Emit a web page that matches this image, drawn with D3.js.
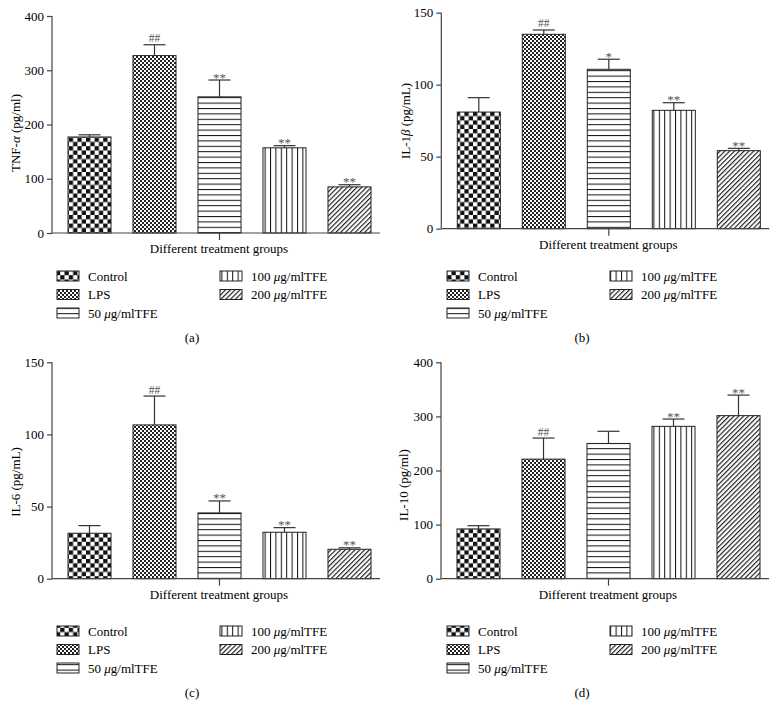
<!DOCTYPE html>
<html>
<head>
<meta charset="utf-8">
<script src="https://cdn.jsdelivr.net/npm/d3@7"></script>
<style>
  body { margin: 0; background: #fff; }
  svg { display: block; font-family: "Liberation Serif", "DejaVu Serif", serif; }
</style>
</head>
<body>
<div id="chart"></div>
<script>
// groups and values (mean, sd)
var groups = ["Control", "LPS", "50", "100", "200"];
var legendLabels = ["Control", "LPS", "50 μg/mlTFE", "100 μg/mlTFE", "200 μg/mlTFE"];

var tnfMean = [177, 327, 251, 157, 85];
var tnfSd = [4, 20, 31, 4, 4];
var tnfSig = ["", "##", "**", "**", "**"];

var il1bMean = [81, 135, 110.7, 82.2, 54.2];
var il1bSd = [10, 3, 7, 5.3, 1.6];
var il1bSig = ["", "##", "*", "**", "**"];

var il6Mean = [31.5, 106.6, 45.6, 32.2, 20.4];
var il6Sd = [5.3, 20, 8.3, 3.2, 1];
var il6Sig = ["", "##", "**", "**", "**"];

var il10Mean = [92, 221, 250, 281.6, 301.4];
var il10Sd = [6, 39, 22.5, 13.5, 38];
var il10Sig = ["", "##", "", "**", "**"];

var yTicks400 = [0, 100, 200, 300, 400];
var yTicks150 = [0, 50, 100, 150];

var width = 779, height = 715;

var svg = d3.select("#chart").append("svg")
  .attr("width", width)
  .attr("height", height);

// fill patterns
var defs = svg.append("defs");

var pCheck = defs.append("pattern").attr("id", "pat0")
  .attr("patternUnits", "userSpaceOnUse").attr("width", 8.6).attr("height", 8.6);
pCheck.append("rect").attr("width", 8.6).attr("height", 8.6).attr("fill", "#fff");
pCheck.append("rect").attr("width", 4.3).attr("height", 4.3).attr("fill", "#111");
pCheck.append("rect").attr("x", 4.3).attr("y", 4.3).attr("width", 4.3).attr("height", 4.3).attr("fill", "#111");

var pFine = defs.append("pattern").attr("id", "pat1")
  .attr("patternUnits", "userSpaceOnUse").attr("width", 4).attr("height", 4);
pFine.append("rect").attr("width", 4).attr("height", 4).attr("fill", "#fff");
pFine.append("rect").attr("width", 2).attr("height", 2).attr("fill", "#222");
pFine.append("rect").attr("x", 2).attr("y", 2).attr("width", 2).attr("height", 2).attr("fill", "#222");

var pHor = defs.append("pattern").attr("id", "pat2")
  .attr("patternUnits", "userSpaceOnUse").attr("width", 10).attr("height", 5.4);
pHor.append("rect").attr("width", 10).attr("height", 5.4).attr("fill", "#fff");
pHor.append("line").attr("x1", 0).attr("x2", 10).attr("y1", 0.5).attr("y2", 0.5)
  .attr("stroke", "#111").attr("stroke-width", 1);

var pVer = defs.append("pattern").attr("id", "pat3")
  .attr("patternUnits", "userSpaceOnUse").attr("width", 5.4).attr("height", 10);
pVer.append("rect").attr("width", 5.4).attr("height", 10).attr("fill", "#fff");
pVer.append("line").attr("y1", 0).attr("y2", 10).attr("x1", 0.5).attr("x2", 0.5)
  .attr("stroke", "#111").attr("stroke-width", 1);

var pDiag = defs.append("pattern").attr("id", "pat4")
  .attr("patternUnits", "userSpaceOnUse").attr("width", 3.4).attr("height", 10)
  .attr("patternTransform", "rotate(45)");
pDiag.append("rect").attr("width", 3.4).attr("height", 10).attr("fill", "#fff");
pDiag.append("line").attr("y1", 0).attr("y2", 10).attr("x1", 0.6).attr("x2", 0.6)
  .attr("stroke", "#111").attr("stroke-width", 1.1);

var fills = ["url(#pat0)", "url(#pat1)", "url(#pat2)", "url(#pat3)", "url(#pat4)"];

var panels = [
  {mean: tnfMean, sd: tnfSd, sig: tnfSig, max: 400, ticks: yTicks400,
   label: ["TNF-", "α", " (pg/ml)"], ox: 0, axisX: 52, top: 16, bottom: 233, labX: 15, labY: 133, legY: 276, cap: "(a)", capY: 342},
  {mean: il1bMean, sd: il1bSd, sig: il1bSig, max: 150, ticks: yTicks150,
   label: ["IL-1", "β", " (pg/mL)"], ox: 390, axisX: 441.3, top: 12.7, bottom: 228.7, labX: 405, labY: 121, legY: 276, cap: "(b)", capY: 342},
  {mean: il6Mean, sd: il6Sd, sig: il6Sig, max: 150, ticks: yTicks150,
   label: ["IL-6 (pg/mL)"], ox: 0, axisX: 52, top: 362.3, bottom: 578.7, labX: 15, labY: 482, legY: 631, cap: "(c)", capY: 697},
  {mean: il10Mean, sd: il10Sd, sig: il10Sig, max: 400, ticks: yTicks400,
   label: ["IL-10 (pg/ml)"], ox: 390, axisX: 441, top: 362.3, bottom: 578.7, labX: 403, labY: 485, legY: 631, cap: "(d)", capY: 697}
];

panels.forEach(function(p) {
  var g = svg.append("g");

  var x = d3.scaleBand()
    .domain(groups)
    .range([p.axisX + 5, p.axisX + 330])
    .paddingInner(0.338)
    .paddingOuter(0.169);

  var y = d3.scaleLinear()
    .domain([0, p.max])
    .range([p.bottom, p.top]);

  var rows = groups.map(function(gr, i) {
    return {g: gr, i: i, v: p.mean[i], sd: p.sd[i], sig: p.sig[i]};
  });

  // error bars (drawn first, bar covers lower part)
  var err = g.selectAll(".err").data(rows).enter().append("g").attr("class", "err");
  err.append("line")
    .attr("x1", function(d) { return x(d.g) + x.bandwidth() / 2; })
    .attr("x2", function(d) { return x(d.g) + x.bandwidth() / 2; })
    .attr("y1", function(d) { return y(d.v); })
    .attr("y2", function(d) { return y(d.v + d.sd); })
    .attr("stroke", "#333").attr("stroke-width", 1.2);
  err.append("line")
    .attr("x1", function(d) { return x(d.g) + x.bandwidth() / 2 - 11; })
    .attr("x2", function(d) { return x(d.g) + x.bandwidth() / 2 + 11; })
    .attr("y1", function(d) { return y(d.v + d.sd); })
    .attr("y2", function(d) { return y(d.v + d.sd); })
    .attr("stroke", "#333").attr("stroke-width", 1.2);

  g.selectAll(".bar").data(rows).enter().append("rect")
    .attr("class", "bar")
    .attr("x", function(d) { return x(d.g); })
    .attr("y", function(d) { return y(d.v); })
    .attr("width", x.bandwidth())
    .attr("height", function(d) { return y(0) - y(d.v); })
    .attr("fill", function(d) { return fills[d.i]; })
    .attr("stroke", "#222").attr("stroke-width", 1);

  // significance marks
  g.selectAll(".sig").data(rows.filter(function(d) { return d.sig; })).enter().append("text")
    .attr("x", function(d) { return x(d.g) + x.bandwidth() / 2; })
    .attr("y", function(d) {
      var c = y(d.v + d.sd);
      return d.sig.indexOf("#") >= 0 ? c - 2.5 : c + 1.5;
    })
    .attr("text-anchor", "middle")
    .attr("fill", "#555")
    .style("font-size", function(d) { return d.sig.indexOf("#") >= 0 ? "11.5px" : "13px"; })
    .text(function(d) { return d.sig; });

  // y axis
  var yAxis = g.append("g")
    .attr("transform", "translate(" + p.axisX + ",0)")
    .call(d3.axisLeft(y).tickValues(p.ticks).tickSize(5).tickPadding(3));
  yAxis.select(".domain").attr("d", "M0," + p.top + "V" + p.bottom).attr("stroke", "#444").attr("stroke-width", 1.2);
  yAxis.selectAll(".tick line").attr("stroke", "#444").attr("stroke-width", 1.2);
  yAxis.selectAll(".tick text")
    .attr("fill", "#000")
    .style("font-family", "Liberation Serif, serif")
    .style("font-size", "13px");

  // x axis: single tick at middle
  var xAxis = g.append("g")
    .attr("transform", "translate(0," + p.bottom + ")")
    .call(d3.axisBottom(x).tickValues([groups[2]]).tickSize(7).tickFormat(""));
  xAxis.select(".domain").attr("d", "M" + p.axisX + ",0H" + (p.axisX + 328)).attr("stroke", "#444").attr("stroke-width", 1.2);
  xAxis.selectAll(".tick line").attr("stroke", "#444").attr("stroke-width", 1.2);

  g.append("text")
    .attr("x", p.axisX + 167)
    .attr("y", p.bottom + 20)
    .attr("text-anchor", "middle")
    .attr("fill", "#000")
    .style("font-size", "13px")
    .text("Different treatment groups");

  // y label
  var yl = g.append("text")
    .attr("transform", "translate(" + (p.labX + 4.5) + "," + p.labY + ") rotate(-90)")
    .attr("text-anchor", "middle")
    .attr("fill", "#000")
    .style("font-size", "13px");
  p.label.forEach(function(s, k) {
    yl.append("tspan").style("font-style", k === 1 ? "italic" : "normal").text(s);
  });

  // legend
  var leg = g.append("g");
  legendLabels.forEach(function(lab, i) {
    var col = i < 3 ? 0 : 1;
    var row = i < 3 ? i : i - 3;
    var lx = p.ox + (col === 0 ? 57 : 220);
    var ly = p.legY + row * 18.5;
    leg.append("rect")
      .attr("x", lx).attr("y", ly - 5)
      .attr("width", 22).attr("height", 10)
      .attr("fill", fills[i])
      .attr("stroke", "#222").attr("stroke-width", 1);
    var t = leg.append("text")
      .attr("x", lx + 31).attr("y", ly + 4.5)
      .attr("fill", "#000")
      .style("font-size", "13px");
    var m = lab.indexOf("μ");
    if (m < 0) {
      t.text(lab);
    } else {
      t.append("tspan").text(lab.slice(0, m));
      t.append("tspan").style("font-style", "italic").text("μ");
      t.append("tspan").text(lab.slice(m + 1));
    }
  });

  g.append("text")
    .attr("x", p.ox + 192)
    .attr("y", p.capY)
    .attr("text-anchor", "middle")
    .attr("fill", "#000")
    .style("font-size", "13px")
    .text(p.cap);
});
</script>
</body>
</html>
